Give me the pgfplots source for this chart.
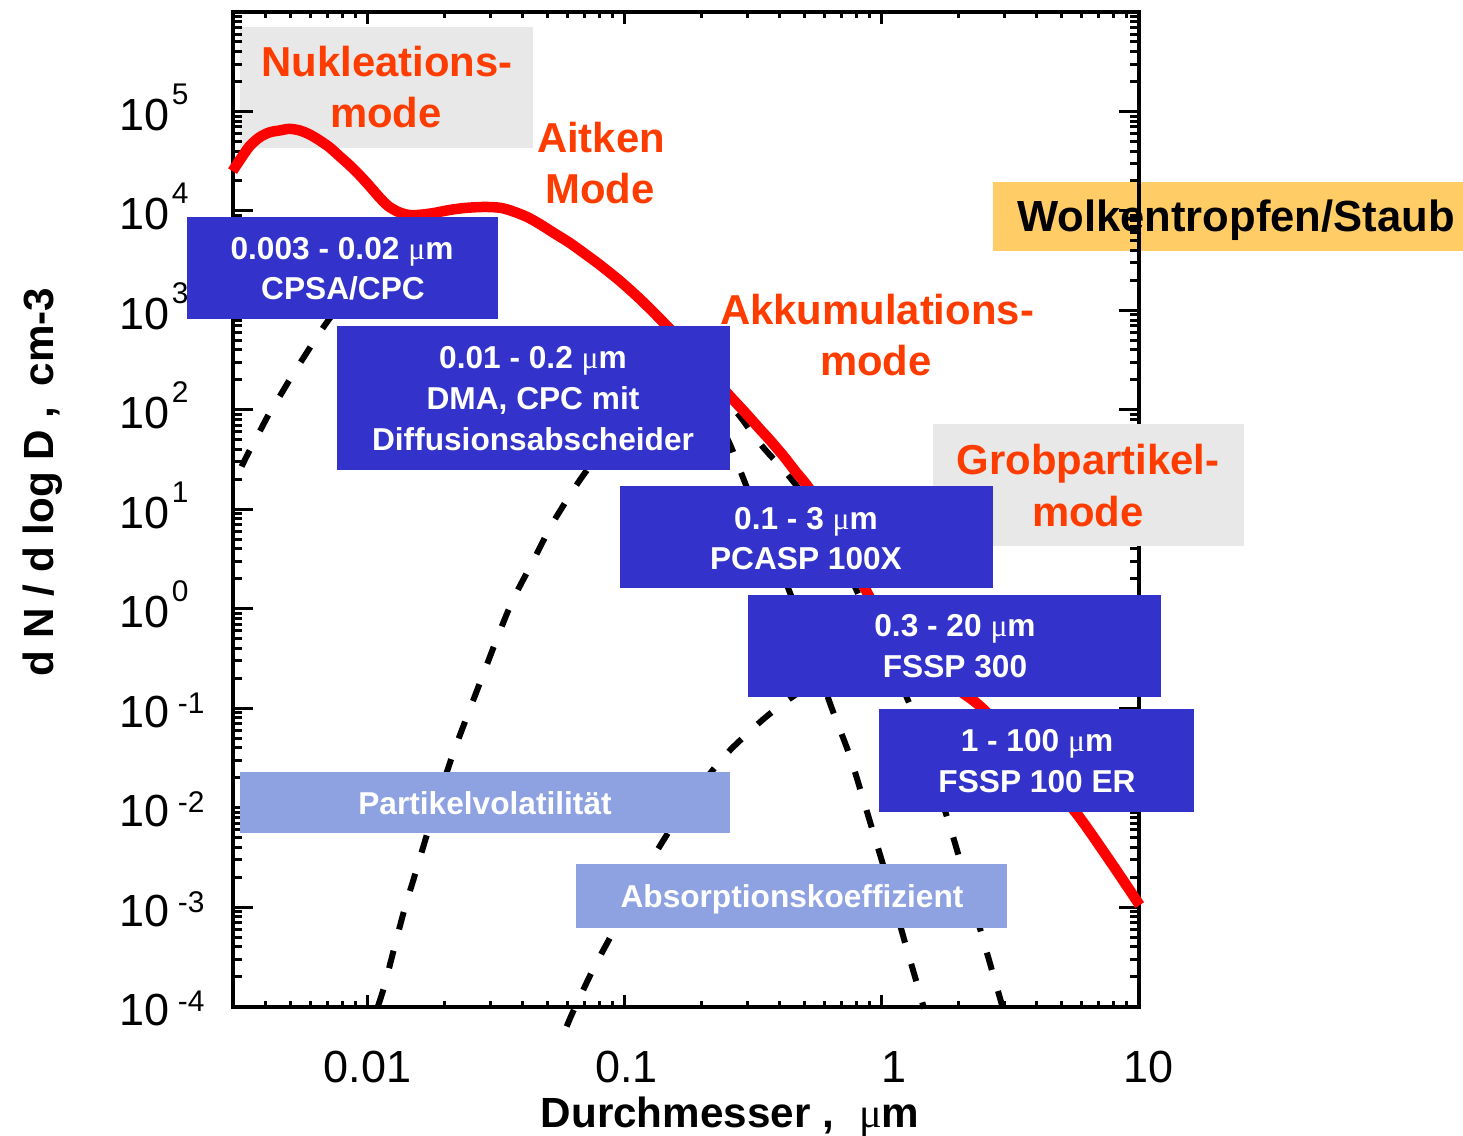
\documentclass[border=0pt]{standalone}
\usepackage{fontspec}
\setmainfont{Liberation Sans}
\newfontfamily\seriffont{Liberation Serif}
\usepackage{pgfplots}
\usepackage{pgfplotstable}
\pgfplotsset{compat=1.18}

\definecolor{boxblue}{RGB}{51,51,204}
\definecolor{lightblue}{RGB}{142,162,226}
\definecolor{boxgrey}{RGB}{232,232,232}
\definecolor{boxorange}{RGB}{255,204,102}
\definecolor{labelorange}{RGB}{255,60,0}

\newcommand{\um}{{\seriffont\mdseries μ}m}
\newcommand{\tp}[1]{10\hspace{0.02cm}\raisebox{0.26cm}{\fontsize{8.5}{9}\selectfont #1}}
\newcommand{\tn}[1]{10\hspace{0.08cm}\raisebox{0.14cm}{\fontsize{8.5}{9}\selectfont #1}}

\tikzset{
  lbl/.style={anchor=base, text=labelorange, font=\bfseries\fontsize{11.9}{12}\selectfont, inner sep=0pt},
  btxt/.style={anchor=base, text=white, font=\bfseries\fontsize{9}{10}\selectfont, inner sep=0pt},
  px/.style={shift={(-2.33cm,10.06cm)}, x=0.01cm, y=-0.01cm}
}

% log10(D), log10(dN/dlogD)
\pgfplotstableread{
lx ly
-2.525 4.40
-2.50 4.50
-2.459 4.65
-2.42 4.74
-2.381 4.79
-2.34 4.81
-2.304 4.825
-2.265 4.81
-2.226 4.77
-2.187 4.71
-2.148 4.64
-2.109 4.55
-2.070 4.46
-2.031 4.36
-1.992 4.25
-1.955 4.14
-1.920 4.05
-1.88 3.99
-1.84 3.96
-1.80 3.96
-1.74 3.98
-1.68 4.01
-1.62 4.03
-1.545 4.04
-1.48 4.03
-1.428 3.99
-1.38 3.94
-1.331 3.87
-1.27 3.77
-1.214 3.68
-1.16 3.58
-1.097 3.46
-1.02 3.30
-0.942 3.12
-0.864 2.92
-0.786 2.71
-0.708 2.48
-0.65 2.31
-0.591 2.14
-0.53 1.97
-0.475 1.81
-0.436 1.70
-0.38 1.53
-0.335 1.38
-0.292 1.245
-0.24 1.05
-0.183 0.80
-0.12 0.50
-0.066 0.21
0.0 -0.10
0.07 -0.35
0.15 -0.55
0.226 -0.70
0.30 -0.82
0.37 -0.95
0.45 -1.15
0.537 -1.42
0.65 -1.74
0.759 -2.06
0.887 -2.53
1.004 -2.98
}\redcurve

\pgfplotstableread{
lx ly
-2.49 1.43
-2.467 1.55
-2.424 1.76
-2.381 1.97
-2.336 2.16
-2.292 2.35
-2.245 2.54
-2.198 2.73
-2.15 2.91
-2.10 3.08
-2.05 3.25
-2.00 3.42
-1.95 3.58
-1.90 3.73
-1.85 3.86
-1.80 3.94
-1.74 3.97
-1.68 4.00
-1.62 4.02
-1.545 4.03
-1.48 4.02
-1.428 3.98
-1.38 3.93
-1.331 3.86
-1.27 3.76
-1.214 3.67
-1.16 3.57
-1.097 3.45
-1.02 3.29
-0.942 3.11
-0.864 2.89
-0.80 2.65
-0.75 2.43
-0.70 2.20
-0.65 1.96
-0.591 1.66
-0.541 1.33
-0.50 1.06
-0.45 0.73
-0.40 0.45
-0.358 0.17
-0.30 -0.22
-0.25 -0.59
-0.191 -1.02
-0.125 -1.47
-0.078 -1.86
-0.035 -2.23
0.004 -2.56
0.05 -2.98
0.097 -3.41
0.140 -3.79
0.165 -4.02
}\curveA

\pgfplotstableread{
lx ly
-1.96 -4.00
-1.934 -3.79
-1.895 -3.40
-1.856 -3.02
-1.809 -2.62
-1.770 -2.28
-1.72 -1.87
-1.669 -1.47
-1.611 -1.07
-1.556 -0.70
-1.498 -0.31
-1.436 0.08
-1.358 0.47
-1.280 0.86
-1.175 1.29
-1.10 1.54
-1.00 1.80
-0.90 1.98
-0.80 2.09
-0.72 2.13
-0.65 2.12
-0.591 2.05
-0.55 1.93
-0.51 1.79
-0.486 1.71
-0.463 1.63
-0.436 1.55
-0.40 1.45
-0.35 1.30
-0.30 1.13
-0.25 0.94
-0.20 0.72
-0.15 0.47
-0.10 0.20
-0.05 -0.09
0.00 -0.36
0.05 -0.62
0.109 -0.96
0.16 -1.34
0.22 -1.82
0.265 -2.18
0.304 -2.52
0.35 -2.92
0.401 -3.38
0.44 -3.73
0.47 -4.00
}\curveB

\pgfplotstableread{
lx ly
-1.225 -4.20
-1.202 -4.06
-1.125 -3.64
-1.051 -3.28
-0.97 -2.88
-0.887 -2.49
-0.80 -2.13
-0.72 -1.83
-0.669 -1.66
-0.60 -1.45
-0.545 -1.31
-0.46 -1.11
-0.377 -0.94
-0.30 -0.81
-0.20 -0.69
-0.10 -0.62
0.0 -0.60
0.10 -0.63
0.20 -0.70
0.30 -0.82
0.37 -0.95
0.45 -1.15
0.537 -1.42
0.65 -1.74
0.759 -2.06
0.887 -2.53
1.004 -2.98
}\curveC

\begin{document}
\begin{tikzpicture}
% items lying behind the plot
\begin{scope}[px]
  \fill[boxgrey] (240,27) rectangle (533,148);
  \node[lbl] at (387,77) {Nukleations-};
  \node[lbl] at (386,128) {mode};
  \fill[boxorange] (993,182) rectangle (1463,251);
  \node[anchor=base, inner sep=0pt, font=\bfseries\fontsize{12.4}{13}\selectfont] at (1236,232) {Wolkentropfen/Staub};
\end{scope}

% y ticks
\begin{axis}[
  at={(0,0)}, anchor=south west, scale only axis,
  width=9.05cm, height=9.94cm,
  xmode=log, ymode=log,
  xmin=0.003, xmax=10, ymin=1e-4, ymax=1e6,
  tick align=inside,
  axis line style={line width=1.1pt},
  tick style={line width=0.85pt, black},
  xtick=\empty,
  ytick={1e-4,1e-3,1e-2,1e-1,1,10,100,1000,1e4,1e5,1e6},
  yticklabels={\tn{-4},\tn{-3},\tn{-2},\tn{-1},\tp{0},\tp{1},\tp{2},\tp{3},\tp{4},\tp{5},{}},
  minor ytick={2e-4,3e-4,4e-4,5e-4,6e-4,7e-4,8e-4,9e-4,
    2e-3,3e-3,4e-3,5e-3,6e-3,7e-3,8e-3,9e-3,
    2e-2,3e-2,4e-2,5e-2,6e-2,7e-2,8e-2,9e-2,
    0.2,0.3,0.4,0.5,0.6,0.7,0.8,0.9,
    2,3,4,5,6,7,8,9,
    20,30,40,50,60,70,80,90,
    200,300,400,500,600,700,800,900,
    2e3,3e3,4e3,5e3,6e3,7e3,8e3,9e3,
    2e4,3e4,4e4,5e4,6e4,7e4,8e4,9e4,
    2e5,3e5,4e5,5e5,6e5,7e5,8e5,9e5},
  major tick length=0.2cm, minor tick length=0.09cm,
  yticklabel style={anchor=base west, inner sep=0pt, xshift=-1.14cm, yshift=-0.19cm,
    font=\fontsize{12.8}{13}\selectfont},
]
\addplot[draw=none] coordinates {(0.01,1)};
\end{axis}

% main axis with data
\begin{axis}[
  at={(0,0)}, anchor=south west, scale only axis,
  width=9.05cm, height=9.94cm,
  xmode=log, ymode=log,
  xmin=0.003, xmax=10, ymin=1e-4, ymax=1e6,
  tick align=inside,
  axis line style={line width=1.1pt},
  tick style={line width=0.85pt, black},
  clip=false,
  ytick=\empty,
  xtick={0.01,0.1,1,10},
  xticklabels={0.01,\hspace{0.04cm}0.1,\hspace{0.24cm}1,\hspace{0.2cm}10},
  minor xtick={0.004,0.005,0.006,0.007,0.008,0.009,
    0.02,0.03,0.04,0.05,0.06,0.07,0.08,0.09,
    0.2,0.3,0.4,0.5,0.6,0.7,0.8,0.9,
    2,3,4,5,6,7,8,9},
  major tick length=0.12cm, minor tick length=0.06cm,
  xticklabel style={anchor=base, inner sep=0pt, yshift=-0.76cm,
    font=\fontsize{12.8}{13}\selectfont},
]
\addplot[black, line width=0.06cm, dash pattern=on 0.18cm off 0.22cm, smooth]
  table[x expr=10^\thisrow{lx}, y expr=10^\thisrow{ly}] {\curveA};
\addplot[black, line width=0.06cm, dash pattern=on 0.18cm off 0.22cm, smooth]
  table[x expr=10^\thisrow{lx}, y expr=10^\thisrow{ly}] {\curveB};
\addplot[black, line width=0.06cm, dash pattern=on 0.18cm off 0.22cm, smooth]
  table[x expr=10^\thisrow{lx}, y expr=10^\thisrow{ly}] {\curveC};
\addplot[red, line width=0.105cm, smooth]
  table[x expr=10^\thisrow{lx}, y expr=10^\thisrow{ly}] {\redcurve};
\end{axis}

% overlays in front of the plot
\begin{scope}[px]
  \fill[boxgrey] (933,424) rectangle (1244,546);
  \node[lbl] at (1088,475) {Grobpartikel-};
  \node[lbl] at (1088,527) {mode};

  \node[lbl] at (601,153) {Aitken};
  \node[lbl] at (600,204) {Mode};
  \node[lbl] at (877,325) {Akkumulations-};
  \node[lbl] at (876,376) {mode};

  \fill[boxblue] (187,217) rectangle (498,319);
  \node[btxt] at (342,260) {0.003 - 0.02 \um};
  \node[btxt] at (343,300) {CPSA/CPC};

  \fill[boxblue] (337,326) rectangle (730,470);
  \node[btxt] at (533,369) {0.01 - 0.2 \um};
  \node[btxt] at (533,410) {DMA, CPC mit};
  \node[btxt] at (533,451) {Diffusionsabscheider};

  \fill[boxblue] (620,486) rectangle (993,588);
  \node[btxt] at (806,530) {0.1 - 3 \um};
  \node[btxt] at (806,570) {PCASP 100X};

  \fill[boxblue] (748,595) rectangle (1161,697);
  \node[btxt] at (955,637) {0.3 - 20 \um};
  \node[btxt] at (955,678) {FSSP 300};

  \fill[boxblue] (879,709) rectangle (1194,812);
  \node[btxt] at (1037,752) {1 - 100 \um};
  \node[btxt] at (1037,793) {FSSP 100 ER};

  \fill[lightblue] (240,772) rectangle (730,833);
  \node[btxt] at (485,815) {Partikelvolatilität};

  \fill[lightblue] (576,864) rectangle (1007,928);
  \node[btxt] at (792,908) {Absorptionskoeffizient};

  \node[anchor=base, inner sep=0pt, font=\bfseries\fontsize{12}{13}\selectfont] at (730,1127) {Durchmesser ,\hspace{0.25cm}\um};
  \node[anchor=base, inner sep=0pt, rotate=90, font=\bfseries\fontsize{12}{13}\selectfont] at (54,482) {d N / d log D ,\hspace{0.2cm}cm-3};
\end{scope}

\pgfresetboundingbox
\path[px, use as bounding box] (0,0) rectangle (1463,1136);
\end{tikzpicture}
\end{document}
